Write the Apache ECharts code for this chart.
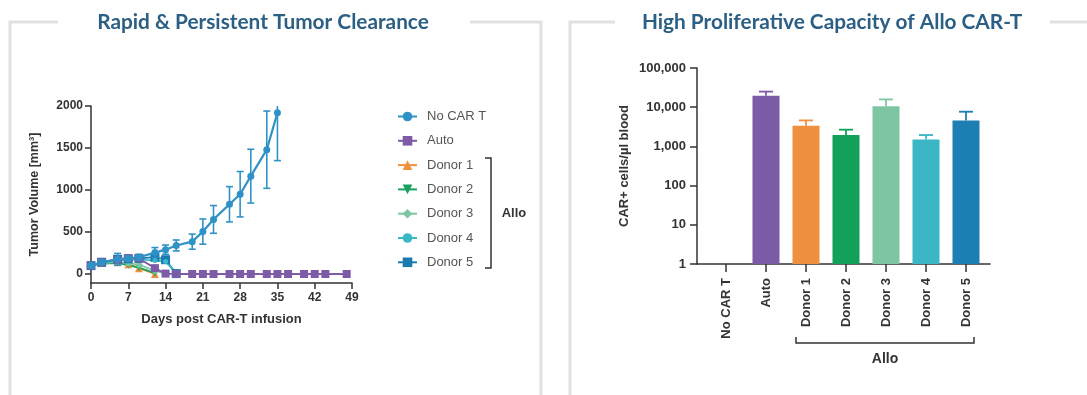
<!DOCTYPE html>
<html>
<head>
<meta charset="utf-8">
<script src="https://cdn.jsdelivr.net/npm/echarts@6/dist/echarts.min.js"></script>
<style>
  html, body { margin: 0; padding: 0; background: #fff; }
  #c { width: 1087px; height: 395px; }
</style>
</head>
<body>
<div id="c"></div>
<script>
// ---- Tumor volume after CAR-T infusion (mean ± error, mm³) ----
const dayTicks = [0, 7, 14, 21, 28, 35, 42, 49];
const volumeTicks = [0, 500, 1000, 1500, 2000];

const noCarDays = [0, 2, 5, 7, 9, 12, 14, 16, 19, 21, 23, 26, 28, 30, 33, 35];
const noCarVol  = [100, 140, 175, 185, 200, 255, 290, 340, 385, 505, 650, 830, 950, 1165, 1480, 1920];
const noCarErr  = [30, 25, 70, 30, 35, 60, 55, 65, 90, 150, 165, 210, 270, 320, 460, 570];

const autoDays = [0, 2, 5, 7, 9, 12, 14, 16, 19, 21, 23, 26, 28, 30, 33, 35, 37, 40, 42, 44, 48];
const autoVol  = [100, 140, 170, 190, 185, 70, 5, 0, 0, 0, 0, 0, 0, 0, 0, 0, 0, 0, 0, 0, 0];

const donor1Days = [0, 2, 5, 7, 9, 12];
const donor1Vol  = [100, 130, 140, 115, 70, 0];
const donor2Days = [0, 2, 5, 7, 9, 12];
const donor2Vol  = [100, 125, 130, 105, 75, 10];
const donor3Days = [0, 2, 5, 7, 9, 12, 14];
const donor3Vol  = [100, 130, 145, 130, 110, 40, 5];
const donor4Days = [0, 2, 5, 7, 9, 12, 14, 16];
const donor4Vol  = [100, 135, 160, 170, 175, 160, 150, 5];
const donor5Days = [0, 2, 5, 7, 9, 12, 14, 16];
const donor5Vol  = [100, 140, 175, 180, 185, 200, 170, 5];

const lineNames  = ['No CAR T', 'Auto', 'Donor 1', 'Donor 2', 'Donor 3', 'Donor 4', 'Donor 5'];
const lineColors = ['#2f92c6', '#7d5ba6', '#f0913d', '#17a05e', '#7cc7a3', '#3bb8c6', '#1b7bb0'];

// ---- CAR+ cells per µl blood ----
const groups      = ['No CAR T', 'Auto', 'Donor 1', 'Donor 2', 'Donor 3', 'Donor 4', 'Donor 5'];
const carCells    = [null, 19600, 3370, 1950, 10500, 1510, 4600];
const carCellsErr = [null, 5400, 1230, 720, 5300, 440, 3070];
const barColors   = ['#2f92c6', '#7b5ba5', '#ee9040', '#12a05a', '#7ec6a2', '#3ab6c4', '#1c7eb3'];

const FONT = 'Liberation Sans, Arial, sans-serif';
const INK = '#333';

// Symmetric error whiskers drawn through the axes' own coordinate mapping
function errorBars(xAxisIndex, yAxisIndex, xs, ys, errs, color, capHalf, z) {
  const data = [];
  xs.forEach((x, i) => { if (errs[i]) data.push([x, ys[i], errs[i]]); });
  return {
    type: 'custom', xAxisIndex, yAxisIndex, data, clip: true, z, silent: true,
    renderItem(params, api) {
      const x = api.value(0), y = api.value(1), e = api.value(2);
      const top = api.coord([x, y + e]);
      const bot = api.coord([x, y - e]);
      const st = { stroke: color, lineWidth: 1.6 };
      return { type: 'group', children: [
        { type: 'line', shape: { x1: top[0], y1: top[1], x2: bot[0], y2: bot[1] }, style: st },
        { type: 'line', shape: { x1: top[0] - capHalf, y1: top[1], x2: top[0] + capHalf, y2: top[1] }, style: st },
        { type: 'line', shape: { x1: bot[0] - capHalf, y1: bot[1], x2: bot[0] + capHalf, y2: bot[1] }, style: st }
      ] };
    }
  };
}

// Upper-only whiskers on the bars, each in its bar's colour
function barWhiskers(xAxisIndex, yAxisIndex, vals, errs, colors, capHalf) {
  const data = [];
  vals.forEach((v, i) => { if (v != null && errs[i]) data.push([i, v, errs[i]]); });
  return {
    type: 'custom', xAxisIndex, yAxisIndex, data, z: 1, silent: true,
    renderItem(params, api) {
      const x = api.value(0), y = api.value(1), e = api.value(2);
      const top = api.coord([x, y + e]);
      const bot = api.coord([x, y]);
      const st = { stroke: colors[Math.round(x)], lineWidth: 1.8 };
      return { type: 'group', children: [
        { type: 'line', shape: { x1: top[0], y1: top[1], x2: bot[0], y2: bot[1] }, style: st },
        { type: 'line', shape: { x1: top[0] - capHalf, y1: top[1], x2: top[0] + capHalf, y2: top[1] }, style: st }
      ] };
    }
  };
}

function lineSeries(idx, days, vals, symbol, size, width, z) {
  return {
    name: lineNames[idx], type: 'line', xAxisIndex: 0, yAxisIndex: 0,
    data: days.map((d, i) => [d, vals[i]]),
    symbol, symbolSize: size, z,
    lineStyle: { color: lineColors[idx], width },
    itemStyle: { color: lineColors[idx] },
    emphasis: { disabled: true }
  };
}

const tri = 'triangle';
const triDown = 'path://M0,0 L10,0 L5,9 Z';

const axisLineStyle = { show: true, onZero: false, lineStyle: { color: INK, width: 1.5 } };
const tickStyle = { show: true, length: 6, lineStyle: { color: INK, width: 1.5 } };

const chart = echarts.init(document.getElementById('c'), null, { renderer: 'canvas' });

chart.setOption({
  animation: false,
  backgroundColor: '#fff',
  textStyle: { fontFamily: FONT },
  grid: [
    { left: 91, top: 106, width: 261, height: 177 },
    { left: 697, top: 68, width: 293, height: 196 }
  ],
  xAxis: [
    {
      gridIndex: 0, type: 'value', min: 0, max: 49, interval: 7,
      axisLine: axisLineStyle, axisTick: tickStyle, splitLine: { show: false },
      axisLabel: { color: INK, fontSize: 12, fontWeight: 'bold', margin: 9, fontFamily: FONT,
                   customValues: dayTicks, formatter: v => String(v) },
      name: 'Days post CAR-T infusion', nameLocation: 'middle', nameGap: 30,
      nameTextStyle: { color: INK, fontSize: 13, fontWeight: 'bold', fontFamily: FONT }
    },
    {
      gridIndex: 1, type: 'value', min: -0.725, max: 6.6,
      axisLine: axisLineStyle,
      axisTick: Object.assign({}, tickStyle, { length: 8, customValues: groups.map((g, i) => i) }),
      splitLine: { show: false },
      axisLabel: {
        color: INK, fontSize: 13, fontWeight: 'bold', margin: 14, rotate: 90, fontFamily: FONT,
        customValues: groups.map((g, i) => i),
        formatter: v => groups[Math.round(v)]
      }
    }
  ],
  yAxis: [
    {
      gridIndex: 0, type: 'value', min: -107, max: 2000,
      axisLine: axisLineStyle,
      axisTick: Object.assign({}, tickStyle, { customValues: volumeTicks }),
      splitLine: { show: false },
      axisLabel: { color: INK, fontSize: 12, fontWeight: 'bold', margin: 8, fontFamily: FONT,
                   customValues: volumeTicks, formatter: v => String(v) },
      name: 'Tumor Volume [mm³]', nameLocation: 'middle', nameGap: 50, nameRotate: 90,
      nameTextStyle: { color: INK, fontSize: 12.5, fontWeight: 'bold', fontFamily: FONT }
    },
    {
      gridIndex: 1, type: 'log', logBase: 10, min: 1, max: 100000,
      axisLine: axisLineStyle, axisTick: Object.assign({}, tickStyle, { length: 7 }),
      splitLine: { show: false }, minorTick: { show: false },
      axisLabel: { color: INK, fontSize: 13, fontWeight: 'bold', margin: 11, fontFamily: FONT,
                   formatter: v => Number(v).toLocaleString('en-US') },
      name: 'CAR+ cells/µl blood', nameLocation: 'middle', nameGap: 66, nameRotate: 90,
      nameTextStyle: { color: INK, fontSize: 13, fontWeight: 'bold', fontFamily: FONT }
    }
  ],
  legend: {
    data: lineNames, orient: 'vertical', left: 392, top: 105,
    itemWidth: 19, itemHeight: 12, itemGap: 11.3, selectedMode: false,
    textStyle: { fontSize: 13, color: '#555', fontFamily: FONT, padding: [0, 0, 0, 5] }
  },
  series: [
    lineSeries(2, donor1Days, donor1Vol, tri, 8, 1.8, 2),
    lineSeries(3, donor2Days, donor2Vol, triDown, 7, 1.8, 2),
    lineSeries(4, donor3Days, donor3Vol, 'diamond', 8, 1.8, 2),
    lineSeries(6, donor5Days, donor5Vol, 'rect', 9, 1.8, 2),
    lineSeries(5, donor4Days, donor4Vol, 'circle', 5, 1.8, 2),
    lineSeries(1, autoDays, autoVol, 'rect', 8, 1.8, 3),
    errorBars(0, 0, noCarDays, noCarVol, noCarErr, lineColors[0], 3.5, 4),
    lineSeries(0, noCarDays, noCarVol, 'circle', 7, 2.2, 4),
    {
      type: 'bar', xAxisIndex: 1, yAxisIndex: 1, barWidth: 27, z: 2,
      data: carCells.map((v, i) => v == null ? null : { value: [i, v], itemStyle: { color: barColors[i] } })
                    .filter(d => d),
      emphasis: { disabled: true }
    },
    barWhiskers(1, 1, carCells, carCellsErr, barColors, 7)
  ]
});

// Panel frames, titles and group brackets
const frame = { stroke: '#e1e1e1', lineWidth: 3, fill: null };
const titleStyle = { fill: '#2b5f84', font: 'bold 20.8px Lato, "Open Sans", sans-serif', textAlign: 'center', textVerticalAlign: 'middle' };
const bracketStyle = { stroke: INK, lineWidth: 1.5, fill: null };

const g1 = chart.convertToPixel({ xAxisIndex: 1 }, 2) - 10;
const g5 = chart.convertToPixel({ xAxisIndex: 1 }, 6) + 8;

chart.setOption({
  graphic: [
    { type: 'polyline', shape: { points: [[58, 22], [10, 22], [10, 395]] }, style: frame, silent: true },
    { type: 'polyline', shape: { points: [[470, 22], [541, 22], [541, 395]] }, style: frame, silent: true },
    { type: 'polyline', shape: { points: [[615, 22], [570, 22], [570, 395]] }, style: frame, silent: true },
    { type: 'polyline', shape: { points: [[1050, 22], [1087, 22]] }, style: frame, silent: true },
    { type: 'text', x: 263, y: 22, style: Object.assign({ text: 'Rapid & Persistent Tumor Clearance' }, titleStyle) },
    { type: 'text', x: 832, y: 22, style: Object.assign({ text: 'High Proliferative Capacity of Allo CAR-T' }, titleStyle) },
    { type: 'polyline', shape: { points: [[485, 158], [491, 158], [491, 268], [485, 268]] }, style: bracketStyle },
    { type: 'text', x: 514, y: 213, style: { text: 'Allo', font: 'bold 13px ' + FONT, fill: INK, textAlign: 'center', textVerticalAlign: 'middle' } },
    { type: 'polyline', shape: { points: [[g1, 337], [g1, 343], [g5, 343], [g5, 337]] }, style: bracketStyle },
    { type: 'text', x: (g1 + g5) / 2, y: 359, style: { text: 'Allo', font: 'bold 14px ' + FONT, fill: INK, textAlign: 'center', textVerticalAlign: 'middle' } }
  ]
});
</script>
</body>
</html>
